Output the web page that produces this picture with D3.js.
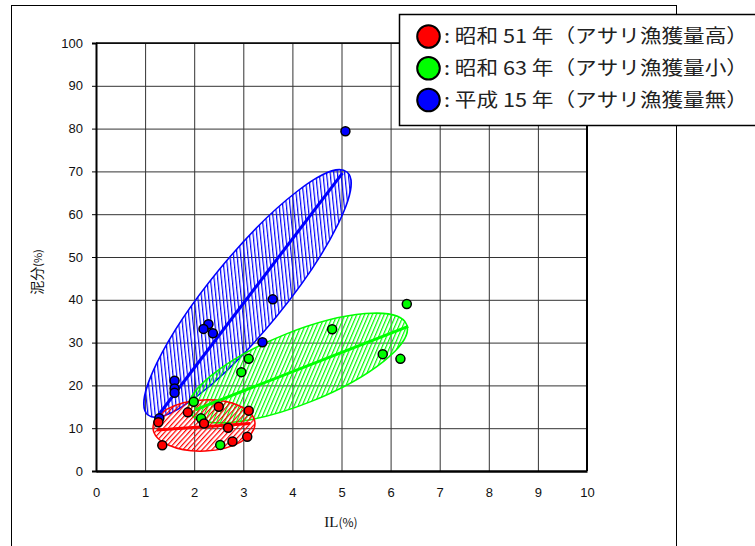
<!DOCTYPE html>
<html><head><meta charset="utf-8">
<script src="https://cdn.jsdelivr.net/npm/d3@7"></script>
<style>html,body{margin:0;padding:0;background:#fff;}svg{display:block;}</style>
</head><body>
<script>
// ---- data ----
const xTicks = [0,1,2,3,4,5,6,7,8,9,10];
const yTicks = [0,10,20,30,40,50,60,70,80,90,100];
const seriesNames = ["昭和 51 年（アサリ漁獲量高）","昭和 63 年（アサリ漁獲量小）","平成 15 年（アサリ漁獲量無）"];
const seriesColors = ["#ff0000","#00ff00","#0000ff"];
// 昭和51年 (red)
const s51x = [1.27,1.35,1.87,2.20,2.50,2.69,2.78,3.08,3.11];
const s51y = [11.4,6.0,13.7,11.1,15.0,10.1,6.9,8.0,14.1];
// 昭和63年 (green)
const s63x = [1.99,2.14,2.53,2.96,3.11,4.81,5.84,6.20,6.33];
const s63y = [16.2,12.3,6.1,23.1,26.2,33.1,27.3,26.2,39.0];
// 平成15年 (blue)
const h15x = [5.08,3.60,2.29,2.19,2.38,3.39,1.60,1.60,1.60,1.29];
const h15y = [79.4,40.1,34.3,33.2,32.2,30.1,21.1,19.3,18.3,12.3];
// trend lines (start, end) in data units
const s51Line = [[1.24,9.6],[3.14,11.1]];
const s63Line = [[2.02,14.3],[6.36,33.8]];
const h15Line = [[1.30,13.5],[5.02,69.6]];
// ellipses: major-axis end A, major-axis end B, minor-axis end (data units)
const s51Ellipse = [[1.161,10.05],[3.238,11.21],[2.173,16.59]];
const s63Ellipse = [[1.902,13.90],[6.326,34.23],[3.841,31.87]];
const h15Ellipse = [[1.059,13.08],[5.112,69.86],[2.503,46.96]];

// ---- chart ----
const W = 755, H = 546;
const svg = d3.select("body").append("svg").attr("width",W).attr("height",H);
const x = d3.scaleLinear().domain([0,10]).range([96,587]);
const y = d3.scaleLinear().domain([0,100]).range([471,43]);

// outer frame
svg.append("rect").attr("x",11.5).attr("y",5.5).attr("width",665).attr("height",560)
  .attr("fill","#fff").attr("stroke","#000").attr("stroke-width",1);

const defs = svg.append("defs");
seriesColors.forEach((c,i)=>{
  const p = defs.append("pattern").attr("id","hatch"+i).attr("patternUnits","userSpaceOnUse")
    .attr("width",3.6).attr("height",3.6).attr("patternTransform","rotate(45)");
  p.append("rect").attr("x",0).attr("y",0).attr("width",1.2).attr("height",3.6).attr("fill",c);
});

// grid
const gGrid = svg.append("g");
gGrid.append("g").attr("transform",`translate(${x(0)},0)`)
  .call(d3.axisLeft(y).tickValues(yTicks).tickSize(-(x(10)-x(0))).tickFormat(""))
  .call(g=>{g.select(".domain").remove(); g.selectAll("line").attr("stroke","#333").attr("stroke-width",1);});
gGrid.append("g").attr("transform",`translate(0,${y(0)})`)
  .call(d3.axisBottom(x).tickValues(xTicks).tickSize(-(y(0)-y(100))).tickFormat(""))
  .call(g=>{g.select(".domain").remove(); g.selectAll("line").attr("stroke","#333").attr("stroke-width",1);});

// plot border
svg.append("line").attr("x1",x(10)).attr("x2",x(10)).attr("y1",y(100)).attr("y2",y(0)).attr("stroke","#000").attr("stroke-width",2);
svg.append("line").attr("x1",x(0)).attr("x2",x(10)).attr("y1",y(100)).attr("y2",y(100)).attr("stroke","#000").attr("stroke-width",1.5);

// ellipses
function drawEllipse(e, i){
  const A=[x(e[0][0]),y(e[0][1])], B=[x(e[1][0]),y(e[1][1])], M=[x(e[2][0]),y(e[2][1])];
  const cx=(A[0]+B[0])/2, cy=(A[1]+B[1])/2;
  const rx=Math.hypot(B[0]-A[0],B[1]-A[1])/2;
  const ry=Math.hypot(M[0]-cx,M[1]-cy);
  const ang=Math.atan2(B[1]-A[1],B[0]-A[0])*180/Math.PI;
  svg.append("ellipse").attr("cx",0).attr("cy",0).attr("rx",rx).attr("ry",ry)
    .attr("transform",`translate(${cx},${cy}) rotate(${ang})`)
    .attr("fill",`url(#hatch${i})`).attr("stroke",seriesColors[i]).attr("stroke-width",1.5);
}
drawEllipse(h15Ellipse,2);
drawEllipse(s63Ellipse,1);
drawEllipse(s51Ellipse,0);

// trend lines
[[s51Line,0],[s63Line,1],[h15Line,2]].forEach(([l,i])=>{
  svg.append("line").attr("x1",x(l[0][0])).attr("y1",y(l[0][1])).attr("x2",x(l[1][0])).attr("y2",y(l[1][1]))
    .attr("stroke",seriesColors[i]).attr("stroke-width",3);
});

// points
function drawPts(xs,ys,i){
  svg.append("g").selectAll("circle").data(xs.map((v,k)=>[v,ys[k]])).join("circle")
    .attr("cx",d=>x(d[0])).attr("cy",d=>y(d[1])).attr("r",4.5)
    .attr("fill",seriesColors[i]).attr("stroke","#000").attr("stroke-width",1.5);
}
drawPts(h15x,h15y,2);
drawPts(s63x,s63y,1);
drawPts(s51x,s51y,0);

// axes
const tickFont = "'Liberation Sans', Arial, sans-serif";
svg.append("g").attr("transform",`translate(${x(0)},0)`)
  .call(d3.axisLeft(y).tickValues(yTicks).tickSize(4).tickPadding(9))
  .call(g=>{g.select(".domain").attr("stroke","#000").attr("stroke-width",2);
    g.selectAll("line").attr("stroke","#000");
    g.selectAll("text").attr("font-family",tickFont).attr("font-size",13).attr("fill","#111");});
svg.append("g").attr("transform",`translate(0,${y(0)})`)
  .call(d3.axisBottom(x).tickValues(xTicks).tickSize(0).tickPadding(17).tickSizeOuter(0))
  .call(g=>{g.select(".domain").attr("stroke","#000").attr("stroke-width",2.5);
    g.selectAll("text").attr("font-family",tickFont).attr("font-size",13).attr("fill","#111");});

// axis titles
svg.append("text").attr("transform","translate(42,272) rotate(-90)").attr("text-anchor","middle")
  .attr("font-family","'Noto Sans CJK JP', sans-serif").attr("font-size",14).attr("fill","#111")
  .html('泥分<tspan font-size="11">(%)</tspan>');
svg.append("text").attr("x",341).attr("y",527).attr("text-anchor","middle")
  .attr("font-family","'Liberation Serif', 'Noto Sans CJK JP', serif").attr("font-size",15).attr("fill","#111")
  .html('IL<tspan font-size="12" font-family="\'Noto Sans CJK JP\', sans-serif">(%)</tspan>');

// legend
const lg = svg.append("g");
lg.append("rect").attr("x",399.5).attr("y",14.5).attr("width",370).attr("height",111)
  .attr("fill","#fff").attr("stroke","#000").attr("stroke-width",1.5);
const rowY = [36.5,68.3,100];
seriesNames.forEach((n,i)=>{
  lg.append("circle").attr("cx",428.5).attr("cy",rowY[i]).attr("r",11.3)
    .attr("fill",seriesColors[i]).attr("stroke","#000").attr("stroke-width",2);
  lg.append("text").attr("x",444).attr("y",rowY[i]).attr("dy","0.36em")
    .attr("font-family","'Noto Sans CJK JP', sans-serif").attr("font-size",19).attr("fill","#222")
    .attr("textLength",304).attr("lengthAdjust","spacingAndGlyphs")
    .text(": "+n);
});
</script>
</body></html>
